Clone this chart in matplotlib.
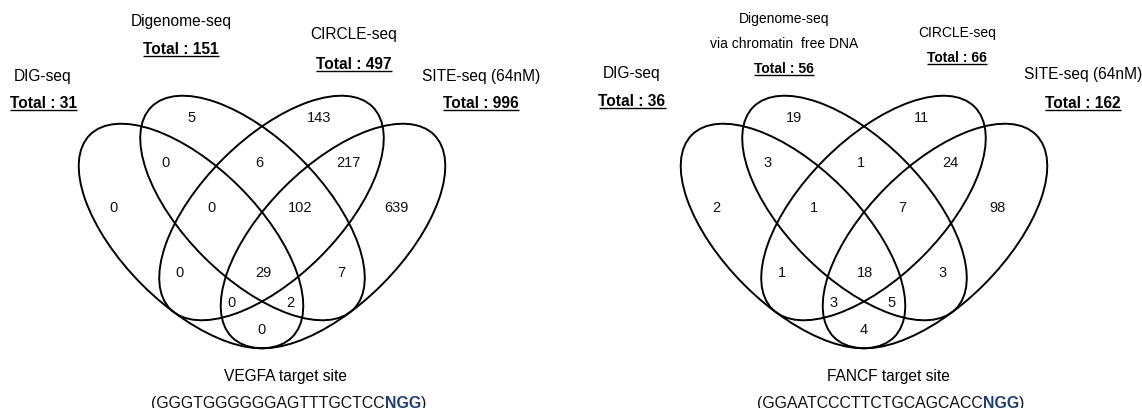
import matplotlib
matplotlib.use("Agg")
import matplotlib.pyplot as plt
from matplotlib.patches import Ellipse

plt.rcParams['font.family'] = ['Liberation Sans', 'DejaVu Sans']

# порядок областей: A=DIG-seq, B=Digenome-seq, C=CIRCLE-seq, D=SITE-seq
regions = ['A', 'B', 'C', 'D', 'AB', 'BC', 'CD', 'ABC', 'BCD',
           'AC', 'ABCD', 'BD', 'ACD', 'ABD', 'AD']
vegfa_counts = [0, 5, 143, 639, 0, 6, 217, 0, 102, 0, 29, 7, 0, 2, 0]
fancf_counts = [2, 19, 11, 98, 3, 1, 24, 1, 7, 1, 18, 3, 3, 5, 4]

vegfa_totals = [31, 151, 497, 996]
fancf_totals = [36, 56, 66, 162]

vegfa_names = ['DIG-seq', 'Digenome-seq', 'CIRCLE-seq', 'SITE-seq (64nM)']
fancf_names = ['DIG-seq', 'Digenome-seq\nvia chromatin  free DNA', 'CIRCLE-seq', 'SITE-seq (64nM)']

vegfa_title = 'VEGFA target site'
fancf_title = 'FANCF target site'
vegfa_seq = ('(GGGTGGGGGGAGTTTGCTCC', 'NGG', ')')
fancf_seq = ('(GGAATCCCTTCTGCAGCACC', 'NGG', ')')

# розташування підписів областей відносно осі діаграми (пікселі)
region_pos = {
    'A': (-148, 207), 'B': (-70, 117), 'C': (57, 117), 'D': (134, 207),
    'AB': (-96, 162), 'BC': (-3, 162), 'CD': (86, 162),
    'ABC': (-50, 207), 'BCD': (38, 207),
    'AC': (-82, 272), 'ABCD': (1, 272), 'BD': (79, 272),
    'ACD': (-30, 302), 'ABD': (28, 302), 'AD': (0, 329),
}

W, H = 1142, 408
fig = plt.figure(figsize=(W / 100, H / 100), dpi=100)
ax = fig.add_axes([0, 0, 1, 1])
ax.set_xlim(0, W)
ax.set_ylim(H, 0)
ax.axis('off')
renderer = fig.canvas.get_renderer()


def px(size):
    return size * 100 / 72


def text_width(t):
    return t.get_window_extent(renderer).width


def label(x, y, s, size=11, bold=False, underline=False, color='black'):
    # y - візуальний центр великих літер
    base = y + 0.36 * px(size)
    t = ax.text(x, base, s, fontsize=size, ha='center', va='baseline',
                fontweight='bold' if bold else 'normal', color=color)
    if underline:
        w = text_width(t)
        ax.plot([x - w / 2, x + w / 2], [base + 2.2, base + 2.2],
                color=color, lw=1.0, solid_capstyle='butt')
    return t


def seq_line(xc, y, parts, size=11):
    base = y + 0.36 * px(size)
    styles = [('normal', '#111111'), ('bold', '#1F3F73'), ('normal', '#111111')]
    texts = []
    for s, (fw, col) in zip(parts, styles):
        texts.append(ax.text(0, base, s, fontsize=size, ha='left', va='baseline',
                             fontweight=fw, color=col))
    widths = [text_width(t) for t in texts]
    x = xc - sum(widths) / 2
    for t, w in zip(texts, widths):
        t.set_x(x)
        x += w


def venn(x0, counts, totals, names, title, seq, head_pos, head_sizes):
    a, b = 143, 69
    ells = [(-71, 236, 45), (-9.5, 208, 45), (9.5, 208, -45), (71, 236, -45)]
    for dx, cy, ang in ells:
        ax.add_patch(Ellipse((x0 + dx, cy), 2 * a, 2 * b, angle=ang,
                             fill=False, ec='black', lw=1.4))
    for r, c in zip(regions, counts):
        dx, y = region_pos[r]
        label(x0 + dx, y, str(c), size=10.5, color='#111111')
    for (hx, hy, ty), name, tot, sz in zip(head_pos, names, totals, head_sizes):
        lines = name.split('\n')
        for i, ln in enumerate(lines):
            label(hx, hy + i * 25, ln, size=sz)
        label(hx, ty, 'Total : %d' % tot, size=sz, bold=True, underline=True)
    label(x0 + 24, 375, title, size=11.2)
    seq_line(x0 + 27, 402, seq, size=11.4)


venn(262, vegfa_counts, vegfa_totals, vegfa_names, vegfa_title, vegfa_seq,
     [(43, 75, 102), (181, 20, 48), (354, 33, 63), (481, 75, 102)],
     [11.2, 11.2, 11.2, 11.2])
venn(864, fancf_counts, fancf_totals, fancf_names, fancf_title, fancf_seq,
     [(632, 72, 100), (784, 18, 68), (957, 32, 57), (1083, 73, 102)],
     [11.2, 10, 10, 11.2])

fig.savefig('out.png', dpi=100)
